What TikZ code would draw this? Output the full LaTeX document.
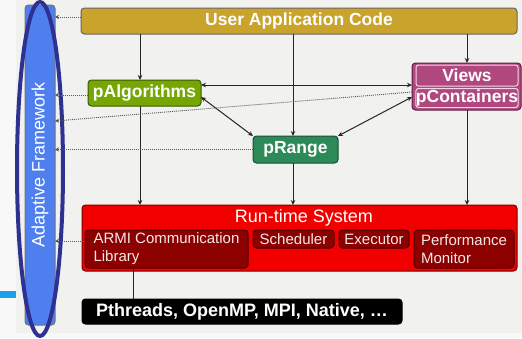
\documentclass[tikz,border=0pt]{standalone}
\usepackage{fontspec}
\usepackage{graphicx}
\setmainfont{Liberation Sans}
\usetikzlibrary{arrows.meta,calc}

\definecolor{pagebg}{HTML}{F8F8F8}
\definecolor{slidebg}{HTML}{F1F1EF}
\definecolor{goldfill}{HTML}{C9A32B}
\definecolor{algfill}{HTML}{75A602}
\definecolor{algline}{HTML}{3D5A00}
\definecolor{viewfill}{HTML}{B0487F}
\definecolor{viewline}{HTML}{5A2040}
\definecolor{viewinner}{HTML}{F4D6E6}
\definecolor{rangefill}{HTML}{2B8A57}
\definecolor{rangeline}{HTML}{1D4D33}
\definecolor{rtsfill}{HTML}{F20000}
\definecolor{rtsline}{HTML}{7A0000}
\definecolor{subfill}{HTML}{8C0000}
\definecolor{subline}{HTML}{4A0000}
\definecolor{subtext}{HTML}{F6E8E8}
\definecolor{afill}{HTML}{4F7FEF}
\definecolor{ringcol}{HTML}{2E3192}
\definecolor{cyanbar}{HTML}{1BA1EC}

\begin{document}
\begin{tikzpicture}[x=1pt,y=-1pt,
  every node/.style={inner sep=0pt, outer sep=0pt},
  boldlbl/.style={text=white, font=\bfseries\fontsize{17.5}{20}\selectfont},
  layerbox/.style={rounded corners=3.5pt, line width=1pt},
  subbox/.style={layerbox, fill=subfill, draw=subline, text=subtext,
    font=\fontsize{15}{18}\selectfont},
  conn/.style={line width=1pt, draw=black!85, -{Stealth[length=5pt,width=4.5pt]}},
  conn2/.style={line width=1pt, draw=black!85,
    {Stealth[length=5pt,width=4.5pt]}-{Stealth[length=5pt,width=4.5pt]}},
  plain/.style={line width=1pt, draw=black!85},
  feed/.style={line width=0.9pt, draw=black!65, dash pattern=on 1pt off 1pt,
    -{Stealth[length=4pt,width=4pt]}}]

% page and slide background
\useasboundingbox (0,0) rectangle (522,338);
\fill[pagebg] (0,0) rectangle (522,338);
\fill[slidebg] (16,0) rectangle (522,333);
\fill[cyanbar] (0,291) rectangle (16,298);

% adaptive framework bar
\node[layerbox, fill=afill, draw=black!55, minimum width=30pt, minimum height=320pt,
  text=white, font=\fontsize{18}{20}\selectfont] (af) at (40,165)
  {\rotatebox{90}{Adaptive Framework}};

% layers
\node[layerbox, boldlbl, fill=goldfill, draw=black!60,
  minimum width=436pt, minimum height=26pt] (app) at (299,21) {User Application Code};
\node[layerbox, boldlbl, fill=algfill, draw=algline,
  minimum width=113pt, minimum height=26pt] (palg) at (144.5,93) {pAlgorithms};
\node[layerbox, fill=viewfill, draw=viewline,
  minimum width=109pt, minimum height=47pt] (vc) at (466.5,86.5) {};
\node[rounded corners=2.5pt, line width=1pt, draw=viewinner, boldlbl,
  minimum width=102pt, minimum height=21pt] (views) at (467,75.5) {Views};
\node[rounded corners=2.5pt, line width=1pt, draw=viewinner, boldlbl,
  minimum width=102pt, minimum height=19pt] (pcont) at (467,98) {pContainers};
\node[layerbox, boldlbl, fill=rangefill, draw=rangeline,
  minimum width=85pt, minimum height=27pt] (prange) at (295.5,149.5) {pRange};

% run-time system
\node[layerbox, fill=rtsfill, draw=rtsline,
  minimum width=435pt, minimum height=66pt] (rts) at (299.5,238) {};
\node[text=white, font=\fontsize{18}{20}\selectfont] (rtstitle) at (304,218) {Run-time System};
\node[subbox, minimum width=163pt, minimum height=38pt, align=left] (armi) at (166.5,249)
  {ARMI Communication\\Library};
\node[subbox, minimum width=81pt, minimum height=18pt] (sched) at (293.5,239) {Scheduler};
\node[subbox, minimum width=70pt, minimum height=18pt] (exec) at (374,239) {Executor};
\node[subbox, minimum width=100pt, minimum height=38pt, align=left] (perf) at (464,249)
  {Performance\\Monitor};

% native layer
\node[layerbox, boldlbl, fill=black, draw=black, font=\bfseries\fontsize{18}{20}\selectfont,
  minimum width=320pt, minimum height=25pt] (pth) at (242,311.5)
  {Pthreads, OpenMP, MPI, Native, \dots};

% ring around the framework bar
\draw[ringcol, line width=4pt] (40,169) ellipse [x radius=23, y radius=167];

% guide coordinates
\coordinate (xa) at (140,0);
\coordinate (xr) at (293,0);
\coordinate (xl) at (133,0);
\coordinate (ylink) at (0,85);
\coordinate (ylow) at (0,97);
\coordinate (f1) at (0,17);
\coordinate (f2) at (0,95);
\coordinate (f3) at (0,92);
\coordinate (f4) at (0,121);
\coordinate (f5) at (0,241);

% solid connectors
\draw[conn] (app.south -| xa) -- (palg.north -| xa);
\draw[conn] (app.south -| xr) -- (prange.north -| xr);
\draw[conn] (app.south -| views) -- (vc.north -| views);
\draw[conn2] (palg.east |- ylink) -- (vc.west |- ylink);
\draw[conn2] (palg.east |- ylow) -- (prange.north west);
\draw[conn2] (vc.west |- ylow) -- (prange.north east);
\draw[conn] (palg.south -| xa) -- (rts.north -| xa);
\draw[conn] (prange.south -| xr) -- (rts.north -| xr);
\draw[conn] (vc.south -| views) -- (rts.north -| views);
\draw[plain] (armi.south -| xl) -- (pth.north -| xl);

% feedback to the adaptive framework
\draw[feed] (app.west |- f1) -- (af.east |- f1);
\draw[feed] (palg.west |- f2) -- (af.east |- f2);
\draw[feed] (vc.west |- f3) -- (af.east |- f4);
\draw[feed] (prange.west) -- (af.east |- prange.west);
\draw[feed] (armi.west |- f5) -- (af.east |- f5);
\end{tikzpicture}
\end{document}
